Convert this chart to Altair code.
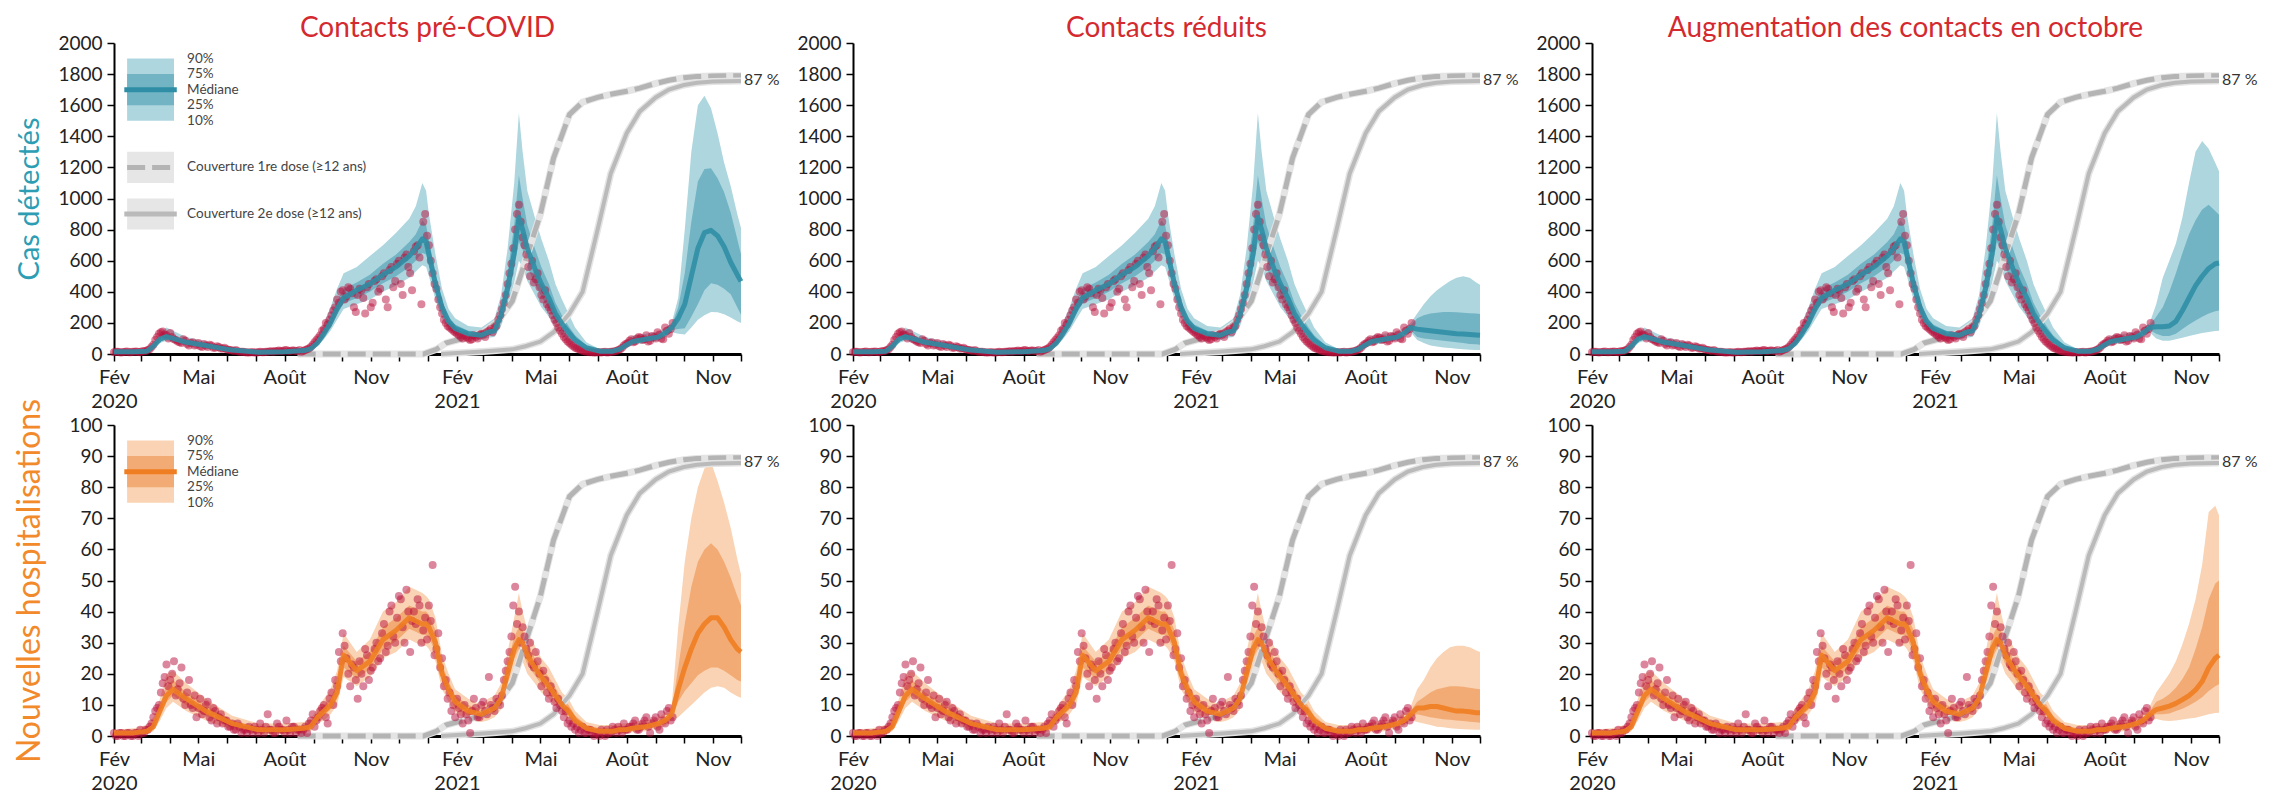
import altair as alt
import pandas as pd

FONT = "Lato"
BASE = pd.Timestamp("2020-02-01")

# ---------------- model fit (shared history), day offsets from 2020-02-01 ----------------
FIT_DAYS = [0, 21, 35, 42, 49, 56, 63, 77, 98, 126, 154, 182, 203, 210, 217, 224, 231, 238, 245, 259,
            273, 287, 301, 315, 322, 329, 333, 336, 343, 350, 357, 364, 378, 392, 399, 406, 413, 420, 427, 432,
            436, 441, 449, 456, 464, 471, 478, 485, 492, 504, 518, 532, 539, 546, 553, 567, 581, 588, 595]

CASES_MED = [15, 15, 18, 50, 95, 112, 100, 75, 55, 25, 12, 15, 22, 35, 70, 130, 200, 290, 360, 410,
             450, 510, 560, 630, 680, 740, 720, 640, 450, 300, 210, 165, 130, 120, 140, 150, 250, 420, 650, 880,
             800, 680, 550, 450, 360, 260, 195, 140, 90, 40, 18, 18, 30, 55, 80, 95, 110, 135, 170]
CASES_Q10 = [10, 10, 12, 35, 70, 85, 75, 55, 40, 15, 6, 8, 14, 25, 50, 95, 150, 220, 290, 320,
             350, 400, 440, 490, 530, 570, 560, 500, 350, 230, 160, 125, 100, 90, 105, 110, 180, 300, 460, 600,
             560, 470, 380, 300, 240, 170, 120, 85, 55, 25, 10, 10, 18, 38, 58, 70, 85, 105, 140]
CASES_Q25 = [12, 12, 15, 42, 82, 100, 88, 65, 48, 20, 9, 12, 18, 30, 60, 110, 175, 255, 325, 360,
             400, 455, 500, 560, 600, 650, 640, 570, 400, 265, 185, 145, 115, 105, 122, 130, 215, 360, 550, 720,
             670, 560, 450, 370, 290, 210, 150, 105, 70, 32, 14, 14, 24, 45, 68, 82, 98, 120, 155]
CASES_Q75 = [18, 18, 22, 60, 110, 130, 115, 88, 65, 30, 15, 18, 28, 42, 85, 160, 240, 340, 420, 460,
             510, 580, 640, 720, 770, 860, 830, 730, 520, 345, 240, 190, 150, 140, 165, 180, 300, 520, 830, 1150,
             1000, 830, 680, 560, 450, 330, 250, 180, 120, 55, 25, 25, 40, 70, 95, 110, 125, 150, 185]
CASES_Q90 = [20, 20, 28, 72, 130, 170, 150, 110, 80, 38, 18, 24, 35, 55, 110, 200, 300, 420, 520, 560,
             630, 700, 780, 870, 950, 1100, 1050, 900, 640, 420, 290, 230, 180, 170, 200, 230, 380, 680, 1100, 1550,
             1300, 1050, 880, 740, 600, 450, 350, 260, 170, 75, 32, 32, 50, 85, 115, 130, 145, 170, 200]

HOSP_MED = [1, 1, 1.5, 3, 8, 13, 15, 12, 8, 4, 2, 2, 2.5, 3, 6, 8, 10, 14, 26, 21,
            24, 31, 34, 38, 37, 36, 36, 35, 30, 20, 15, 11, 8, 7, 8, 9, 12, 20, 28, 31,
            30, 26, 22, 19, 16, 13, 10, 8, 5, 2.5, 1.5, 1.5, 2, 2, 2.5, 3, 4, 5, 7]
HOSP_Q10 = [0, 0, 0.5, 1.5, 5, 9, 11, 8, 5, 2, 0.5, 0.5, 1, 1.5, 4, 5, 7, 10, 19, 16,
            19, 25, 27, 31, 30, 29, 29, 28, 24, 15, 11, 7.5, 5, 4.5, 5, 6, 8.5, 15, 22, 25,
            24, 20, 17, 14, 12, 9.5, 7, 5.5, 3, 1.2, 0.5, 0.5, 0.8, 0.8, 1.2, 1.5, 2.5, 3.2, 5]
HOSP_Q25 = [0.5, 0.5, 1, 2, 6.5, 11, 13, 10, 6.5, 3, 1.2, 1.2, 1.5, 2, 5, 6.5, 8.5, 12, 22, 18.5,
            21.5, 28, 30.5, 34.5, 33.5, 32.5, 32.5, 31.5, 27, 17.5, 13, 9, 6.5, 5.5, 6.5, 7.5, 10, 17.5, 25, 28,
            27, 23, 19.5, 16.5, 14, 11, 8.5, 6.5, 4, 1.8, 1, 1, 1.3, 1.3, 1.8, 2.2, 3.2, 4, 6]
HOSP_Q75 = [1.5, 1.5, 2.5, 4.5, 10, 16, 18, 14, 10, 5, 3, 3, 3.5, 4, 7.5, 10, 12, 17, 29, 24,
            27, 35, 38, 42, 41, 40, 40, 39, 34, 23, 17.5, 13, 10, 8.5, 10, 11, 14.5, 23, 32, 35,
            34, 30, 25, 22, 19, 15.5, 12, 10, 6.5, 3.5, 2.5, 2.5, 3, 3, 3.5, 4, 5, 6, 8]
HOSP_Q90 = [2, 2.5, 3.5, 6, 12, 20, 21, 17, 12, 6.5, 4, 4, 4.5, 5.5, 9, 12, 15, 21, 33, 27,
            31, 40, 43, 48, 47, 46, 45, 44, 38, 26, 20, 15, 12, 10, 12, 13, 17, 27, 38, 46,
            40, 34, 29, 25, 22, 18, 14, 12, 8, 4.5, 3.5, 3.5, 4, 4, 4.5, 5, 6, 7.5, 9.5]

# ---------------- projections (3 scenarios) ----------------
PROJ_DAYS = [602, 609, 616, 623, 630, 637, 644, 651, 658, 665, 669]

C1_MED = [230, 320, 500, 680, 780, 795, 760, 690, 590, 510, 467]
C1_Q10 = [130, 125, 170, 220, 250, 270, 268, 255, 235, 210, 200]
C1_Q25 = [160, 165, 240, 320, 410, 455, 445, 420, 385, 300, 253]
C1_Q75 = [300, 520, 850, 1110, 1190, 1195, 1130, 1040, 910, 740, 640]
C1_Q90 = [360, 800, 1300, 1600, 1660, 1580, 1420, 1230, 1080, 900, 810]

C2_MED = [160, 155, 150, 145, 140, 135, 130, 128, 125, 122, 120]
C2_Q10 = [90, 70, 55, 48, 42, 38, 34, 30, 28, 26, 25]
C2_Q25 = [110, 100, 95, 90, 85, 80, 75, 70, 65, 62, 60]
C2_Q75 = [230, 250, 260, 265, 270, 270, 268, 265, 262, 260, 258]
C2_Q90 = [260, 320, 370, 410, 440, 470, 490, 500, 490, 460, 445]

C3_MED = [175, 175, 180, 210, 280, 360, 440, 500, 550, 580, 585]
C3_Q10 = [100, 85, 85, 95, 105, 115, 125, 135, 142, 148, 150]
C3_Q25 = [130, 115, 115, 130, 160, 190, 215, 240, 260, 275, 280]
C3_Q75 = [240, 300, 400, 520, 650, 770, 860, 930, 960, 920, 895]
C3_Q90 = [320, 490, 600, 710, 880, 1100, 1300, 1370, 1320, 1230, 1175]

H1_MED = [15, 22, 28, 33, 36, 38, 38, 35, 31, 28, 27]
H1_Q10 = [6, 8, 10, 12, 14, 15.5, 16, 15.5, 14, 12.8, 12.3]
H1_Q25 = [11, 14.5, 17, 19.5, 21, 22, 22, 21, 19.5, 18, 17.5]
H1_Q75 = [22, 36, 48, 56, 60, 62, 60, 56, 51, 45, 42]
H1_Q90 = [35, 56, 70, 80, 86, 88, 82, 75, 67, 57, 52]

H2_MED = [9, 9, 9.5, 9.5, 9, 8.5, 8, 8, 7.8, 7.5, 7.5]
H2_Q10 = [4.5, 4, 3.5, 3, 2.8, 2.5, 2.3, 2.2, 2.1, 2, 2]
H2_Q25 = [7, 6.5, 6, 5.7, 5.4, 5.2, 5, 4.8, 4.6, 4.4, 4.3]
H2_Q75 = [11, 12.5, 14, 15, 15.5, 16, 16, 15.8, 15.5, 15.2, 15]
H2_Q90 = [15, 18, 22, 25, 27, 28.5, 29, 29, 28.5, 27.5, 27]

H3_MED = [8.5, 9, 9.6, 10.5, 11.7, 13, 14.8, 17.5, 22, 25, 26]
H3_Q10 = [5.5, 5, 4.8, 5, 5.3, 5.6, 5.9, 6.4, 7, 7.4, 7.5]
H3_Q25 = [7, 7, 7.2, 8, 8.8, 9.8, 11, 12.5, 14.5, 16, 16.6]
H3_Q75 = [11, 12, 13.4, 15.5, 18.3, 22, 28, 35, 44, 49, 50]
H3_Q90 = [14, 17, 20, 24, 29.5, 36, 44, 55, 72, 74, 71]

# ---------------- observations (every 2 days from 2020-02-01, in two interleaved lists) ----------------
OBS_DAYS_A = list(range(0, 597, 4))
OBS_DAYS_B = list(range(2, 597, 4))
CASES_OBS_A = [12, 14, 10, 15, 12, 14, 16, 12, 18, 25,
               45, 90, 130, 145, 120, 135, 95, 80, 70, 85,
               55, 75, 60, 50, 65, 45, 55, 40, 45, 35,
               30, 25, 20, 18, 15, 12, 10, 12, 10, 14,
               12, 15, 18, 20, 22, 18, 25, 20, 22, 18,
               15, 25, 35, 60, 90, 120, 160, 190, 250, 300,
               330, 410, 370, 420, 300, 380, 410, 260, 450, 330,
               480, 420, 520, 300, 560, 470, 600, 380, 640, 520,
               660, 700, 320, 900, 700, 520, 420, 300, 220, 180,
               160, 140, 120, 100, 110, 90, 120, 100, 130, 110,
               150, 140, 180, 250, 330, 450, 580, 800, 960, 750,
               640, 500, 460, 520, 380, 410, 300, 250, 200, 150,
               110, 80, 60, 40, 30, 20, 15, 12, 10, 12,
               10, 15, 12, 15, 20, 30, 55, 70, 95, 80,
               110, 90, 120, 85, 110, 140, 100, 170, 130, 200]
CASES_OBS_B = [15, 11, 13, 16, 12, 15, 13, 17, 20, 30,
               60, 110, 140, 125, 100, 110, 90, 75, 95, 65,
               70, 55, 70, 45, 55, 60, 40, 50, 35, 40,
               28, 22, 25, 15, 14, 10, 12, 9, 11, 12,
               14, 16, 14, 18, 20, 24, 18, 22, 20, 25,
               20, 30, 45, 75, 105, 150, 200, 220, 280, 350,
               400, 350, 430, 390, 270, 420, 360, 430, 300, 470,
               400, 500, 350, 540, 430, 580, 450, 620, 560, 410,
               690, 620, 850, 760, 600, 450, 350, 260, 200, 170,
               150, 130, 110, 120, 100, 95, 110, 120, 125, 140,
               160, 170, 220, 290, 380, 520, 680, 900, 850, 700,
               560, 600, 480, 430, 350, 320, 280, 220, 170, 130,
               95, 70, 50, 35, 25, 18, 14, 11, 10, 11,
               13, 10, 14, 18, 25, 40, 65, 85, 75, 100,
               105, 95, 80, 115, 100, 125, 95, 150, 160]
HOSP_OBS_A = [1, 0, 1, 0, 1, 0, 1, 2, 1, 2,
              4, 8, 10, 17, 23, 18, 24, 15, 22, 10,
              18, 9, 6, 12, 8, 11, 5, 8, 6, 4,
              5, 3, 2, 4, 1, 2, 3, 1, 2, 4,
              1, 7, 2, 1, 3, 2, 5, 1, 3, 2,
              1, 3, 4, 7, 5, 8, 10, 4, 14, 18,
              27, 33, 25, 16, 22, 12, 20, 28, 18, 22,
              30, 25, 36, 29, 42, 30, 45, 35, 47, 27,
              40, 44, 30, 38, 42, 55, 28, 22, 16, 12,
              8, 6, 9, 4, 7, 1, 12, 6, 10, 8,
              19, 9, 12, 10, 18, 24, 32, 48, 40, 35,
              28, 30, 22, 24, 16, 18, 12, 14, 9, 10,
              6, 4, 3, 2, 1, 3, 1, 2, 0, 1,
              2, 0, 1, 3, 1, 2, 4, 2, 3, 5,
              2, 4, 6, 1, 5, 3, 7, 4, 9, 6]
HOSP_OBS_B = [0, 1, 0, 1, 0, 1, 0, 1, 2, 3,
              6, 9, 14, 19, 16, 20, 13, 17, 12, 14,
              10, 13, 9, 7, 10, 6, 9, 4, 7, 5,
              3, 4, 2, 3, 2, 1, 2, 3, 1, 2,
              3, 2, 1, 4, 2, 1, 2, 3, 1, 2,
              2, 1, 5, 3, 6, 9, 6, 12, 10, 16,
              24, 29, 20, 23, 18, 24, 16, 26, 21, 28,
              24, 33, 27, 40, 32, 38, 44, 30, 40, 37,
              36, 42, 34, 31, 37, 26, 33, 25, 18, 14,
              10, 12, 7, 10, 5, 8, 9, 6, 11, 7,
              10, 8, 11, 13, 21, 27, 42, 36, 30, 32,
              26, 23, 27, 20, 21, 14, 16, 11, 12, 8,
              8, 5, 4, 3, 2, 1, 2, 1, 1, 0,
              1, 2, 1, 2, 3, 1, 2, 3, 4, 2,
              3, 5, 3, 4, 6, 2, 5, 8, 5]

# ---------------- vaccination coverage (% of >=12 years) ----------------
DOSE1_DAYS = [196, 330, 344, 354, 366, 380, 394, 408, 425, 439, 455, 469, 486, 500, 516, 530, 547, 561, 578, 592, 608, 622, 639, 669]
DOSE1_PCT = [0, 0, 1.5, 3.5, 4.5, 5.5, 7, 10, 17, 30, 45, 63, 77, 81, 82.5, 83.5, 84.5, 85.5, 87, 88, 88.8, 89.2, 89.4, 89.5]
DOSE2_DAYS = [349, 366, 394, 425, 439, 455, 469, 486, 500, 516, 530, 547, 561, 578, 592, 608, 622, 639, 669]
DOSE2_PCT = [0, 0.3, 0.8, 1.5, 2.5, 4, 7, 13, 20, 40, 58, 71, 78, 82.5, 85, 86.5, 87.2, 87.6, 87.8]

TITLES = ["Contacts pré-COVID", "Contacts réduits", "Augmentation des contacts en octobre"]
LEG_FAN = ["90%", "75%", "Médiane", "25%", "10%"]
LEG_VAC = ["Couverture 1re dose (≥12 ans)", "Couverture 2e dose (≥12 ans)"]

for arr in [CASES_MED, CASES_Q10, CASES_Q25, CASES_Q75, CASES_Q90, HOSP_MED, HOSP_Q10, HOSP_Q25, HOSP_Q75, HOSP_Q90]:
    assert len(arr) == len(FIT_DAYS), len(arr)
assert len(CASES_OBS_A) == len(OBS_DAYS_A) and len(HOSP_OBS_A) == len(OBS_DAYS_A)
assert len(CASES_OBS_B) == len(OBS_DAYS_B) and len(HOSP_OBS_B) == len(OBS_DAYS_B)
assert len(DOSE1_DAYS) == len(DOSE1_PCT) and len(DOSE2_DAYS) == len(DOSE2_PCT)

# ---------------- styling ----------------
W, H = 627, 311
RED = "#b80d3a"
TITLE_RED = "#d42a2f"
STY = {
    "cases": dict(light="#aed6df", dark="#72b4c4", med="#2f8ea5", title="Cas détectés",
                  tcolor="#2c9db3", tsize=29, top=2000, step=200, factor=20, tpad=13),
    "hosp": dict(light="#f9d3b3", dark="#f3ab75", med="#ef7d22", title="Nouvelles hospitalisations",
                 tcolor="#f28a2c", tsize=32, top=100, step=10, factor=1, tpad=22),
}


def dates(days):
    return [(BASE + pd.Timedelta(days=int(d))).strftime("%Y-%m-%d") for d in days]


MONTHS = [alt.DateTime(year=2020 + (1 + i) // 12, month=(1 + i) % 12 + 1, date=1, utc=True) for i in range(23)]
XSCALE = alt.Scale(type="utc", nice=False,
                   domain=[alt.DateTime(year=2020, month=2, date=1, utc=True),
                           alt.DateTime(year=2021, month=12, date=1, utc=True)])
XAXIS = alt.Axis(values=MONTHS, grid=False, domainColor="black", domainWidth=3, tickColor="black",
                 tickWidth=1.5, tickSize=7, labelFont=FONT, labelFontSize=20, labelColor="#222",
                 labelPadding=6, labelOverlap=False, labelFlush=False, labelLineHeight=24,
                 labelExpr="utcmonth(datum.value)==1 ? ['Fév', '' + utcyear(datum.value)] : "
                           "utcmonth(datum.value)==4 ? 'Mai' : utcmonth(datum.value)==7 ? 'Août' : "
                           "utcmonth(datum.value)==10 ? 'Nov' : ''")


def make_panel(metric, col):
    s = STY[metric]
    yscale = alt.Scale(domain=[0, s["top"]], nice=False, zero=True)
    yaxis = alt.Axis(values=list(range(0, s["top"] + 1, s["step"])), format="d", grid=False, domainColor="black",
                     domainWidth=2, tickColor="black", tickWidth=1.5, tickSize=7, labelFont=FONT,
                     labelFontSize=19, labelColor="#222", labelPadding=5,
                     titleFont=FONT, titleFontSize=s["tsize"], titleFontWeight="normal", titleColor=s["tcolor"],
                     titlePadding=s["tpad"])
    ytitle = s["title"] if col == 0 else None

    def X(f="date"):
        return alt.X(f + ":T", scale=XSCALE, axis=XAXIS, title=None)

    def Y(f):
        return alt.Y(f + ":Q", scale=yscale, axis=yaxis, title=ytitle)

    if metric == "cases":
        hist = [CASES_Q10, CASES_Q25, CASES_MED, CASES_Q75, CASES_Q90]
        proj = [[C1_Q10, C1_Q25, C1_MED, C1_Q75, C1_Q90],
                [C2_Q10, C2_Q25, C2_MED, C2_Q75, C2_Q90],
                [C3_Q10, C3_Q25, C3_MED, C3_Q75, C3_Q90]][col]
        obs_a, obs_b = CASES_OBS_A, CASES_OBS_B
    else:
        hist = [HOSP_Q10, HOSP_Q25, HOSP_MED, HOSP_Q75, HOSP_Q90]
        proj = [[H1_Q10, H1_Q25, H1_MED, H1_Q75, H1_Q90],
                [H2_Q10, H2_Q25, H2_MED, H2_Q75, H2_Q90],
                [H3_Q10, H3_Q25, H3_MED, H3_Q75, H3_Q90]][col]
        obs_a, obs_b = HOSP_OBS_A, HOSP_OBS_B

    fan = pd.DataFrame({"date": dates(FIT_DAYS + PROJ_DAYS)})
    for name, h, p in zip(["q10", "q25", "q50", "q75", "q90"], hist, proj):
        fan[name] = list(h) + list(p)
    obs_df = pd.DataFrame({"date": dates(OBS_DAYS_A + OBS_DAYS_B), "v": list(obs_a) + list(obs_b)})
    f = s["factor"]
    top = s["top"]
    d1 = pd.DataFrame({"date": dates(DOSE1_DAYS), "v": [p * f for p in DOSE1_PCT]})
    d2 = pd.DataFrame({"date": dates(DOSE2_DAYS), "v": [p * f for p in DOSE2_PCT]})
    layers = []

    # legend background boxes (first column only)
    if col == 0:
        if metric == "cases":
            gbox = pd.DataFrame({"date": dates([14, 14]), "date2": dates([64, 64]),
                                 "y1": [0.55 * top, 0.4 * top], "y2": [0.65 * top, 0.5 * top]})
            layers.append(alt.Chart(gbox).mark_rect(color="#e6e6e6").encode(
                x=X(), x2="date2:T", y=Y("y1"), y2="y2:Q"))
        fl = pd.DataFrame({"date": dates([14]), "date2": dates([64]), "y1": [0.75 * top], "y2": [0.95 * top]})
        fd = pd.DataFrame({"date": dates([14]), "date2": dates([64]), "y1": [0.8 * top], "y2": [0.9 * top]})
        layers.append(alt.Chart(fl).mark_rect(color=s["light"]).encode(x=X(), x2="date2:T", y=Y("y1"), y2="y2:Q"))
        layers.append(alt.Chart(fd).mark_rect(color=s["dark"]).encode(x=X(), x2="date2:T", y=Y("y1"), y2="y2:Q"))

    layers.append(alt.Chart(fan).mark_area(color=s["light"]).encode(x=X(), y=Y("q10"), y2="q90:Q"))
    layers.append(alt.Chart(fan).mark_area(color=s["dark"]).encode(x=X(), y=Y("q25"), y2="q75:Q"))

    # vaccination coverage
    layers.append(alt.Chart(d1).mark_line(color="#e4e4e4", strokeWidth=7).encode(x=X(), y=Y("v")))
    layers.append(alt.Chart(d1).mark_line(color="#b4b4b4", strokeWidth=5, strokeDash=[18, 7]).encode(x=X(), y=Y("v")))
    layers.append(alt.Chart(d2).mark_line(color="#e4e4e4", strokeWidth=7).encode(x=X(), y=Y("v")))
    layers.append(alt.Chart(d2).mark_line(color="#bababa", strokeWidth=4).encode(x=X(), y=Y("v")))

    layers.append(alt.Chart(obs_df).mark_circle(size=64, color=RED, opacity=0.5).encode(x=X(), y=Y("v")))
    layers.append(alt.Chart(fan).mark_line(color=s["med"], strokeWidth=5, opacity=0.9,
                                           strokeJoin="round").encode(x=X(), y=Y("q50")))

    if col == 0:
        ml = pd.DataFrame({"date": dates([11]), "date2": dates([67]), "y": [0.85 * top]})
        layers.append(alt.Chart(ml).mark_rule(color=s["med"], strokeWidth=5).encode(
            x=X(), x2="date2:T", y=Y("y")))
        lt = pd.DataFrame({"date": dates([78] * 5), "y": [0.95 * top, 0.9 * top, 0.85 * top, 0.8 * top, 0.75 * top],
                           "t": LEG_FAN})
        layers.append(alt.Chart(lt).mark_text(align="left", baseline="middle", font=FONT, fontSize=13.5,
                                              color="#444").encode(x=X(), y=Y("y"), text="t:N"))
        if metric == "cases":
            l1 = pd.DataFrame({"date": dates([14]), "date2": dates([64]), "y": [0.6 * top]})
            layers.append(alt.Chart(l1).mark_rule(color="#b4b4b4", strokeWidth=5, strokeDash=[18, 7]).encode(
                x=X(), x2="date2:T", y=Y("y")))
            l2 = pd.DataFrame({"date": dates([11]), "date2": dates([67]), "y": [0.45 * top]})
            layers.append(alt.Chart(l2).mark_rule(color="#bababa", strokeWidth=5).encode(
                x=X(), x2="date2:T", y=Y("y")))
            vt = pd.DataFrame({"date": dates([78, 78]), "y": [0.6 * top, 0.45 * top], "t": LEG_VAC})
            layers.append(alt.Chart(vt).mark_text(align="left", baseline="middle", font=FONT, fontSize=13.5,
                                                  color="#444").encode(x=X(), y=Y("y"), text="t:N"))

    pt = pd.DataFrame({"date": dates([669]), "y": [88 * f], "t": ["87 %"]})
    layers.append(alt.Chart(pt).mark_text(align="left", baseline="middle", dx=3, font=FONT, fontSize=16,
                                          color="#333").encode(x=X(), y=Y("y"), text="t:N"))

    ch = alt.layer(*layers).properties(width=W, height=H)
    if metric == "cases":
        ch = ch.properties(title=alt.TitleParams(TITLES[col], font=FONT, fontSize=28, fontWeight="normal",
                                                 color=TITLE_RED, anchor="middle", offset=-9))
    return ch


panels = [make_panel(m, c) for m in ["cases", "hosp"] for c in range(3)]
chart = alt.concat(*panels, columns=3, spacing={"row": 71, "column": 112}, bounds="flush").properties(
    padding={"left": 5, "top": 7, "right": 5, "bottom": 5}
).configure_view(stroke=None)

chart.save("out.html", embed_options={"renderer": "svg", "actions": False})
